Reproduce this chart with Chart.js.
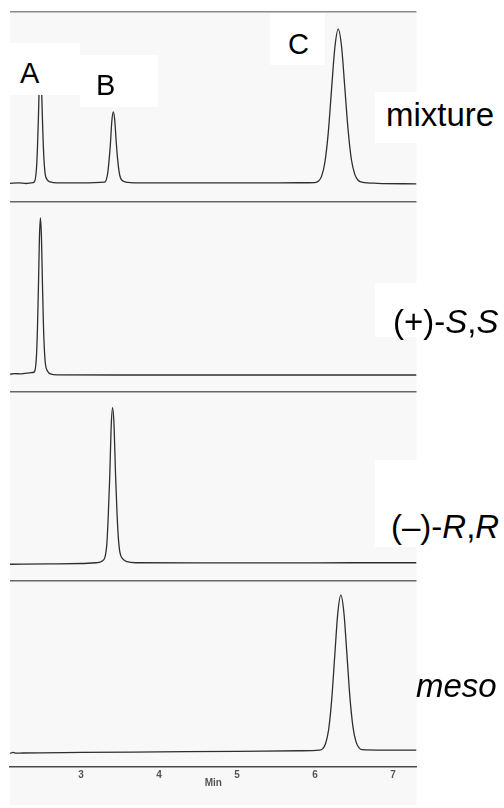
<!DOCTYPE html>
<html lang="en">
<head>
<meta charset="UTF-8" />
<title>Chromatograms: mixture, (+)-S,S, (–)-R,R, meso</title>
<style>
    body {
        margin: 0;
        background: #fff;
        font-family: "Liberation Sans", Arial, sans-serif;
    }

    #wrap {
        position: relative;
        width: 504px;
        height: 808px;
    }

    .box {
        position: absolute;
        background: #fff;
    }

    .lbl {
        position: absolute;
        color: #000;
        white-space: nowrap;
    }

    .peak {
        font-size: 29px;
        line-height: 29px;
    }

    .sample {
        font-size: 33px;
        line-height: 33px;
    }
</style>
<script src="https://cdn.jsdelivr.net/npm/chart.js"></script>
</head>
<body>
<div id="wrap">
    <canvas id="chrom"></canvas>

    <!-- white label patches pasted over the scan -->
    <div class="box" style="left:10px;top:43px;width:70px;height:52px"></div>
    <div class="box" style="left:80px;top:55px;width:78px;height:52px"></div>
    <div class="box" style="left:270px;top:13px;width:55px;height:52px"></div>
    <div class="box" style="left:375px;top:92px;width:129px;height:51px"></div>
    <div class="box" style="left:375px;top:283px;width:129px;height:54px"></div>
    <div class="box" style="left:375px;top:460px;width:129px;height:87px"></div>

    <div class="lbl peak" style="left:20px;top:59px">A</div>
    <div class="lbl peak" style="left:96px;top:71px">B</div>
    <div class="lbl peak" style="left:288px;top:30px">C</div>

    <div class="lbl sample" style="left:386px;top:98px">mixture</div>
    <div class="lbl sample" style="left:393px;top:305px">(+)-<i>S</i>,<i>S</i></div>
    <div class="lbl sample" style="left:391px;top:510px">(–)-<i>R</i>,<i>R</i></div>
    <div class="lbl sample" style="left:416px;top:669px"><i>meso</i></div>
</div>

<script>
    // retention time axis (min)
    const xTicks = [3, 4, 5, 6, 7];

    // mixture trace (signal in % of panel height)
    const mixTime = [2.09, 2.2, 2.3, 2.36, 2.403, 2.429, 2.442, 2.454, 2.467, 2.478, 2.491, 2.504, 2.516, 2.529, 2.542, 2.568, 2.606, 2.7, 3.0,
        3.302, 3.340, 3.358, 3.377, 3.395, 3.414, 3.433, 3.451, 3.470, 3.488, 3.507, 3.544, 3.600, 3.8, 4.5, 5.2, 5.8,
        5.996, 6.041, 6.084, 6.126, 6.169, 6.211, 6.254, 6.296, 6.339, 6.381, 6.424, 6.466, 6.509, 6.551, 6.60, 6.8, 7.3];
    const mixSignal = [9.7, 9.9, 9.6, 9.9, 10.5, 17.4, 28.6, 44.1, 64.0, 72.1, 64.6, 46.0, 30.4, 19.9, 14.3, 11.5, 10.4, 9.9, 9.9,
        10.3, 14.4, 21.1, 30.5, 42.4, 47.3, 42.8, 31.6, 22.2, 15.9, 12.5, 10.8, 10.2, 9.9, 9.9, 9.9, 10.0,
        10.1, 10.8, 13.5, 20.8, 36.3, 59.1, 81.4, 91.0, 82.1, 60.2, 37.5, 22.1, 14.4, 11.3, 10.3, 9.7, 9.4];

    // (+)-S,S trace
    const ssTime = [2.09, 2.15, 2.22, 2.28, 2.34, 2.38, 2.403, 2.429, 2.442, 2.454, 2.467, 2.48, 2.493, 2.506, 2.518, 2.531, 2.544, 2.57, 2.608, 2.7, 3.5, 5.0, 7.3];
    const ssSignal = [9.1, 9.4, 9.3, 9.6, 9.8, 10.0, 10.4, 18.6, 33.5, 54.2, 80.7, 91.4, 81.5, 56.7, 36.0, 21.9, 14.5, 10.8, 9.3, 8.8, 8.7, 8.7, 8.7];

    // (–)-R,R trace
    const rrTime = [2.09, 2.6, 3.0, 3.2, 3.293, 3.331, 3.349, 3.368, 3.386, 3.405, 3.424, 3.442, 3.461, 3.479, 3.498, 3.535, 3.591, 3.7, 4.5, 5.5, 6.5, 7.3];
    const rrSignal = [8.6, 8.8, 9.0, 9.4, 11.0, 19.2, 33.9, 54.5, 80.7, 91.4, 81.5, 56.9, 36.4, 22.4, 15.0, 11.4, 10.0, 9.4, 9.3, 9.3, 9.4, 9.4];

    // meso trace
    const mesoTime = [2.09, 2.13, 2.17, 2.25, 3.0, 4.0, 5.0, 5.8, 6.057, 6.096, 6.135, 6.174, 6.213, 6.252, 6.291, 6.33, 6.369, 6.408, 6.447, 6.486, 6.525, 6.564, 6.603, 6.8, 7.3];
    const mesoSignal = [7.3, 7.8, 7.4, 7.5, 7.8, 8.1, 8.4, 8.7, 9.0, 9.7, 12.6, 20.1, 36.0, 59.5, 82.4, 92.2, 83.0, 60.5, 37.2, 21.4, 13.5, 10.3, 9.3, 9.1, 9.1];

    function toPoints(times, values) {
        return times.map((t, i) => ({ x: t, y: values[i] }));
    }

    const trace = {
        borderColor: '#2e2e2e',
        borderWidth: 1.3,
        pointRadius: 0,
        cubicInterpolationMode: 'monotone',
        fill: false
    };

    // one y axis per panel, stacked; the grid line at the top of each is the panel divider
    function panelAxis(weight, stackWeight, lineColor) {
        return {
            type: 'linear',
            position: 'left',
            stack: 'panels',
            stackWeight: stackWeight,
            weight: weight,
            min: 0,
            max: 100,
            afterBuildTicks: s => { s.ticks = [{ value: 100 }]; },
            ticks: { display: false },
            grid: { drawTicks: false, color: lineColor, lineWidth: 1.6 },
            border: { display: false }
        };
    }

    // the light grey of the scanned paper
    const scanBackground = {
        id: 'scanBackground',
        beforeDraw(chart) {
            const { ctx, chartArea: a } = chart;
            ctx.save();
            ctx.fillStyle = '#f8f8f8';
            ctx.fillRect(a.left, a.top, a.right - a.left, chart.height - 3 - a.top);
            ctx.restore();
        }
    };

    const tickFont = { family: '"Liberation Sans", Arial, sans-serif', size: 10, weight: 'bold', lineHeight: 1 };

    new Chart(document.getElementById('chrom'), {
        type: 'line',
        data: {
            datasets: [
                { ...trace, label: 'mixture', data: toPoints(mixTime, mixSignal), yAxisID: 'yMix' },
                { ...trace, label: '(+)-S,S', data: toPoints(ssTime, ssSignal), yAxisID: 'ySS' },
                { ...trace, label: '(–)-R,R', data: toPoints(rrTime, rrSignal), yAxisID: 'yRR' },
                { ...trace, label: 'meso', data: toPoints(mesoTime, mesoSignal), yAxisID: 'yMeso' }
            ]
        },
        options: {
            responsive: true,
            maintainAspectRatio: false,
            animation: false,
            layout: { padding: { left: 10, right: 87.5, top: 12, bottom: 17 } },
            plugins: { legend: { display: false }, tooltip: { enabled: false } },
            scales: {
                x: {
                    type: 'linear',
                    min: 2.09,
                    max: 7.30,
                    afterBuildTicks: s => { s.ticks = xTicks.map(v => ({ value: v })); },
                    afterFit: s => { s.height = 24; },
                    grid: { display: false, drawTicks: false },
                    border: { display: true, color: '#4a4a4a', width: 1.5 },
                    ticks: { padding: 3, color: '#555', font: tickFont, maxRotation: 0, autoSkip: false },
                    title: { display: true, text: 'Min', color: '#555', font: tickFont, padding: { top: 0, bottom: 3 } }
                },
                yMix: panelAxis(4, 189.7, '#8a8a8a'),
                ySS: panelAxis(3, 189.8, '#666'),
                yRR: panelAxis(2, 189, '#666'),
                yMeso: panelAxis(1, 186.5, '#666')
            }
        },
        plugins: [scanBackground]
    });
</script>
</body>
</html>
